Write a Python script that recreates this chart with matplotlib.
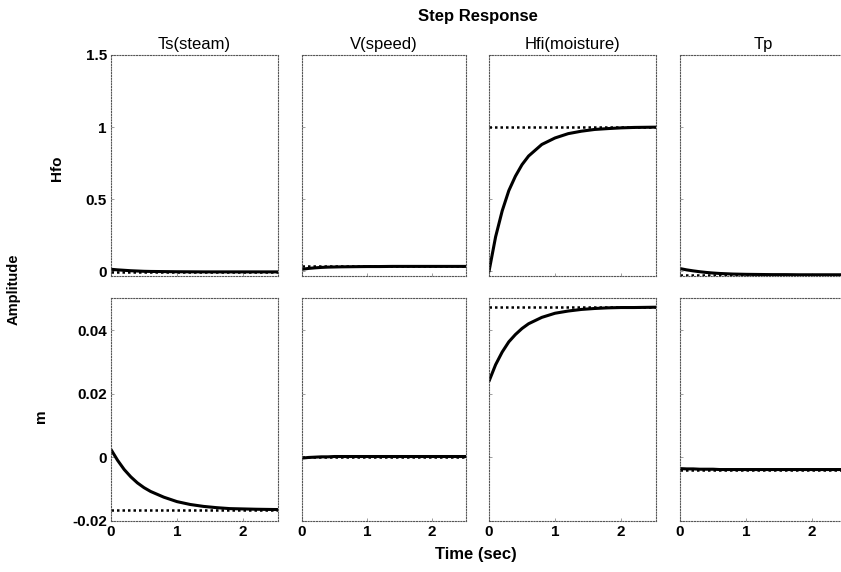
import matplotlib
matplotlib.use("Agg")
import matplotlib.pyplot as plt

plt.rcParams['font.family'] = ['Liberation Sans', 'DejaVu Sans']

# ---- data ----
inputs = ["Ts(steam)", "V(speed)", "Hfi(moisture)", "Tp"]
outputs = ["Hfo", "m"]

t = [0, 0.1, 0.2, 0.3, 0.4, 0.5, 0.6, 0.8, 1.0, 1.2, 1.4, 1.6, 1.8, 2.0, 2.2, 2.53]

hfo_ts = [0.015, 0.011, 0.008, 0.005, 0.003, 0.001, 0.0, -0.001, -0.002, -0.0025, -0.003, -0.003, -0.003, -0.003, -0.003, -0.003]
hfo_v = [0.015, 0.021, 0.025, 0.028, 0.030, 0.031, 0.032, 0.033, 0.034, 0.034, 0.035, 0.035, 0.035, 0.035, 0.035, 0.035]
hfo_hfi = [0.0, 0.24, 0.42, 0.56, 0.66, 0.74, 0.80, 0.88, 0.925, 0.955, 0.972, 0.984, 0.99, 0.995, 0.998, 1.0]
hfo_tp = [0.02, 0.011, 0.004, -0.002, -0.007, -0.011, -0.014, -0.018, -0.020, -0.021, -0.022, -0.022, -0.023, -0.023, -0.023, -0.023]

m_ts = [0.0025, -0.0009, -0.0038, -0.0061, -0.0080, -0.0095, -0.0107, -0.0125, -0.0139, -0.0148, -0.0154, -0.0158, -0.0161, -0.0162, -0.0163, -0.0164]
m_v = [-0.0002, 0.0000, 0.0001, 0.0002, 0.0002, 0.0003, 0.0003, 0.0003, 0.0003, 0.0003, 0.0003, 0.0003, 0.0003, 0.0003, 0.0003, 0.0003]
m_hfi = [0.024, 0.0292, 0.0332, 0.0364, 0.0387, 0.0406, 0.0421, 0.0441, 0.0454, 0.0461, 0.0466, 0.0469, 0.0471, 0.0472, 0.0472, 0.0473]
m_tp = [-0.0035, -0.0036, -0.0036, -0.0037, -0.0037, -0.0037, -0.0038, -0.0038, -0.0038, -0.0038, -0.0038, -0.0038, -0.0038, -0.0038, -0.0038, -0.0038]

steady_hfo = [-0.003, 0.035, 1.0, -0.023]
steady_m = [-0.0165, 0.0003, 0.0473, -0.0038]

yticks_hfo = [0, 0.5, 1, 1.5]
yticklabels_hfo = ["0", "0.5", "1", "1.5"]
yticks_m = [-0.02, 0, 0.02, 0.04]
yticklabels_m = ["-0.02", "0", "0.02", "0.04"]
xticks = [0, 1, 2]
xticklabels = ["0", "1", "2"]

responses = [[hfo_ts, hfo_v, hfo_hfi, hfo_tp], [m_ts, m_v, m_hfi, m_tp]]
steadies = [steady_hfo, steady_m]

# ---- layout ----
W, H = 841, 572
fig = plt.figure(figsize=(W / 100, H / 100), dpi=100)

col_left = [111, 302, 489, 680]
col_w = [167, 164, 167, 167]
row_top = [55, 298]
row_bot = [276.5, 521]
ylims = [(-0.035, 1.5), (-0.02, 0.0502)]

for r in range(2):
    for c in range(4):
        l = col_left[c] / W
        b = 1 - row_bot[r] / H
        w = col_w[c] / W
        h = (row_bot[r] - row_top[r]) / H
        ax = fig.add_axes([l, b, w, h])
        ax.plot(t, responses[r][c], color='black', lw=2.2, solid_capstyle='round')
        ax.plot([0, 2.53], [steadies[r][c]] * 2, color='black', lw=1.8, ls=(0, (1, 1.2)))
        ax.set_xlim(0, 2.53)
        ax.set_ylim(*ylims[r])
        for s in ax.spines.values():
            s.set_linestyle((0, (1, 1.5)))
            s.set_linewidth(0.8)
            s.set_color('#555555')
        ax.tick_params(direction='in', length=2, width=0.5, color='#777777',
                       labelsize=11, pad=3)
        if r == 0:
            ax.set_yticks(yticks_hfo)
            ax.set_yticklabels(yticklabels_hfo if c == 0 else [])
            ax.set_xticks(xticks)
            ax.set_xticklabels([])
            ax.set_title(inputs[c], fontsize=12, pad=4)
        else:
            ax.set_yticks(yticks_m)
            ax.set_yticklabels(yticklabels_m if c == 0 else [])
            ax.set_xticks(xticks)
            ax.set_xticklabels(xticklabels)
        for lab in ax.get_xticklabels() + ax.get_yticklabels():
            lab.set_fontweight('bold')

fig.text(478 / W, 1 - 17 / H, "Step Response", ha='center', va='center',
         fontsize=12, fontweight='bold')
fig.text(57 / W, 1 - 168 / H, outputs[0], ha='center', va='center',
         rotation=90, fontsize=11, fontweight='bold')
fig.text(41 / W, 1 - 416 / H, outputs[1], ha='center', va='center',
         rotation=90, fontsize=11, fontweight='bold')
fig.text(14 / W, 1 - 289 / H, "Amplitude", ha='center', va='center',
         rotation=90, fontsize=10.5, fontweight='bold')
fig.text(476 / W, 1 - 555 / H, "Time (sec)", ha='center', va='center',
         fontsize=12, fontweight='bold')

fig.savefig("out.png", dpi=100)
